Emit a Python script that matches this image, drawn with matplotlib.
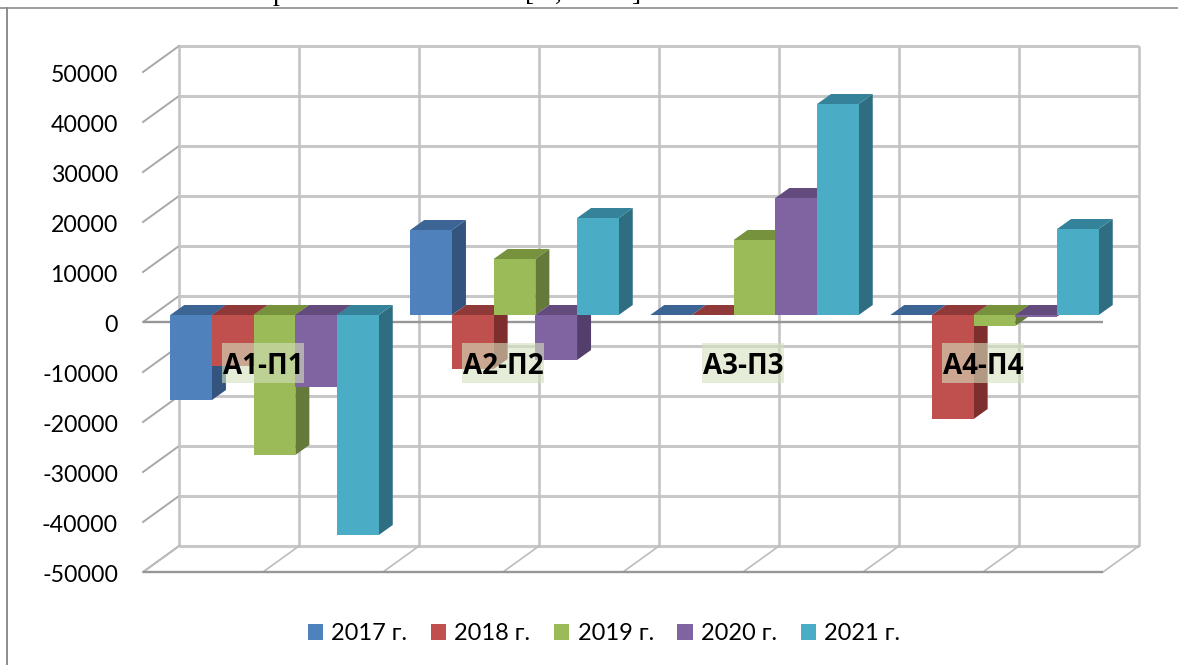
import numpy as np
import matplotlib.pyplot as plt
from matplotlib.patches import Patch, Rectangle

plt.rcParams['font.family'] = ['Lato', 'Open Sans', 'DejaVu Sans']

groups = ['А1-П1', 'А2-П2', 'А3-П3', 'А4-П4']
years = ['2017 г.', '2018 г.', '2019 г.', '2020 г.', '2021 г.']
values_2017 = [-17000, 17000, 0, 0]
values_2018 = [-10200, -10800, 0, -20800]
values_2019 = [-28000, 11200, 15000, -2200]
values_2020 = [-14400, -9000, 23400, -300]
values_2021 = [-44000, 19400, 42200, 17200]
tick_values = [50000, 40000, 30000, 20000, 10000, 0, -10000, -20000, -30000, -40000, -50000]

front_colors = ['#4f81bd', '#c0504d', '#9bbb59', '#8064a2', '#4bacc6']
side_colors = ['#32547f', '#7e2f2d', '#657a3a', '#533f6b', '#2e6e80']
top_colors = ['#3c6595', '#8f3a38', '#76923c', '#634b7d', '#35839a']

W, H = 1178, 665
x_per_px = 1 / 240
y_per_px = 200
bar_width = 41.7 * x_per_px
depth_x, depth_y = 14 * x_per_px, 10 * y_per_px

fig = plt.figure(figsize=(W / 100, H / 100), dpi=100)
ax = fig.add_axes([0, 0, 1, 1])
ax.set_xlim(-152.7 * x_per_px, (W - 152.7) * x_per_px)
ax.set_ylim(315 * y_per_px - H * y_per_px, 315 * y_per_px)
ax.axis('off')

# wall planes relative to the plane of the bar fronts
back_dx, back_dy = 26.3 * x_per_px, 19 * y_per_px
front_dx, front_dy = -9.7 * x_per_px, -7 * y_per_px
left, right = 0, 4
wall_lines = np.arange(0, 8.5) / 2

for v in tick_values:
    ax.plot([left + back_dx, right + back_dx], [v + back_dy, v + back_dy],
            color='#c8c8c8', lw=2.2, zorder=1, solid_capstyle='butt')
    ax.plot([left + front_dx, left + back_dx], [v + front_dy, v + back_dy],
            color='#a8a8a8', lw=1.4, zorder=1)
low = tick_values[-1]
high = tick_values[0]
for g in wall_lines:
    ax.plot([g + back_dx, g + back_dx], [low + back_dy, high + back_dy],
            color='#c4c4c4', lw=1.9, zorder=1, solid_capstyle='butt')
    ax.plot([g + front_dx, g + back_dx], [low + front_dy, low + back_dy],
            color='#bcbcbc', lw=1.2, zorder=1)
for v in [0, low]:
    ax.plot([left + front_dx, right + front_dx], [v + front_dy, v + front_dy],
            color='#969696', lw=1.7, zorder=2, solid_capstyle='butt')

series = [values_2017, values_2018, values_2019, values_2020, values_2021]
z = 3
for g in range(len(groups)):
    gap = (1 - 5 * bar_width) / 2 + 1.8 * x_per_px
    for s, vals in enumerate(series):
        v = vals[g]
        x0 = g + gap + s * bar_width
        x1 = x0 + bar_width
        top = max(v, 0)
        ax.fill([x1, x1 + depth_x, x1 + depth_x, x1],
                [0, depth_y, v + depth_y, v], color=side_colors[s], lw=0, zorder=z)
        ax.fill([x0, x1, x1 + depth_x, x0 + depth_x],
                [top, top, top + depth_y, top + depth_y], color=top_colors[s], lw=0, zorder=z)
        ax.bar(x0, v, bar_width, align='edge', color=front_colors[s], lw=0, zorder=z)
        z += 1

for v in tick_values:
    ax.text(118 / W, 1 - (326 - v / 200) / H, str(v), transform=fig.transFigure,
            ha='right', va='center', fontsize=16.7, color='black', zorder=50)

# pale label boxes, 82 x 40 px
box_w, box_h = 82 * x_per_px, 40 * y_per_px
for i, name in enumerate(groups):
    ax.add_patch(Rectangle((i + 0.46 - box_w / 2, -5600 - box_h), box_w, box_h,
                           facecolor='#d4e1be', alpha=0.6, edgecolor='none', zorder=59))
    ax.text(i + 0.46, -10300, name, ha='center', va='center',
            fontsize=20, fontweight='bold', family='Open Sans', color='black', zorder=60)

handles = [Patch(facecolor=c, edgecolor='none') for c in front_colors]
fig.legend(handles, years, loc='center', bbox_to_anchor=(604 / W, 1 - 634 / H), ncol=5,
           frameon=False, fontsize=17, handlelength=0.64, handleheight=0.64,
           handletextpad=0.35, columnspacing=1.0)

# page frame and the clipped line of text above it
fig.add_artist(plt.Line2D([0, 1], [1 - 8 / H, 1 - 8 / H], color='#8c8c8c', lw=1.2))
fig.add_artist(plt.Line2D([6.5 / W, 6.5 / W], [0, 1 - 8 / H], color='#8c8c8c', lw=1.4))
for x, t in [(280, 'р'), (530, '['), (558, ','), (636, ']')]:
    fig.text(x / W, 1 - 0 / H, t, family='Liberation Serif', fontsize=20, ha='center',
             va='baseline', color='black')

fig.savefig('out.png', dpi=100)
